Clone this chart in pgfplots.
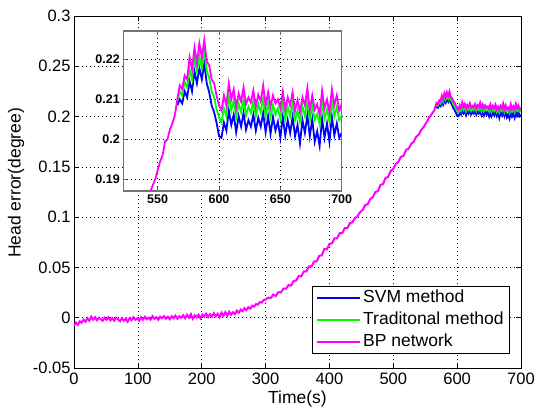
\documentclass[border=0pt]{standalone}
\usepackage{pgfplots}
\pgfplotsset{compat=1.18}
\usepackage{pgfplotstable}
\usepackage{fontspec}
\setmainfont{Liberation Sans}

\pgfplotstableread{
t v
0 -0.0080
3 -0.0050
6 -0.0070
9 -0.0035
12 -0.0050
15 -0.0020
18 -0.0040
21 -0.0005
24 -0.0030
27 0.0010
30 -0.0020
33 0.0005
36 -0.0025
39 0.0000
42 -0.0015
45 -0.0030
48 0.0000
51 -0.0020
54 0.0005
57 -0.0025
60 -0.0005
63 -0.0030
66 0.0000
69 -0.0015
72 -0.0035
75 -0.0005
78 -0.0030
81 -0.0010
84 -0.0040
87 -0.0005
90 -0.0025
93 0.0005
96 -0.0020
99 -0.0005
102 -0.0030
105 0.0005
108 -0.0020
111 0.0010
114 -0.0015
117 0.0000
120 -0.0020
123 0.0015
126 -0.0010
129 0.0005
132 -0.0020
135 0.0010
138 -0.0005
141 0.0015
144 -0.0010
147 0.0010
150 -0.0015
153 0.0015
156 -0.0005
159 0.0020
162 -0.0010
165 0.0015
168 0.0000
171 0.0025
174 -0.0005
177 0.0030
180 0.0000
183 0.0035
186 -0.0010
189 0.0025
192 0.0005
195 0.0030
198 -0.0005
201 0.0030
204 0.0010
207 0.0040
210 0.0005
213 0.0035
216 0.0010
219 0.0045
222 0.0015
225 0.0040
228 0.0005
231 0.0050
234 0.0020
237 0.0055
240 0.0020
243 0.0060
246 0.0030
249 0.0055
252 0.0035
255 0.0070
258 0.0050
261 0.0080
264 0.0065
267 0.0095
270 0.0075
273 0.0105
276 0.0090
279 0.0120
282 0.0110
285 0.0135
288 0.0130
291 0.0155
294 0.0150
297 0.0175
300 0.0180
304 0.0200
308 0.0195
312 0.0230
316 0.0215
320 0.0255
324 0.0250
328 0.0290
332 0.0290
336 0.0325
340 0.0320
344 0.0365
348 0.0370
352 0.0415
356 0.0410
360 0.0460
364 0.0460
368 0.0510
372 0.0510
376 0.0560
380 0.0560
384 0.0615
388 0.0620
392 0.0685
396 0.0680
400 0.0735
404 0.0740
408 0.0790
412 0.0790
416 0.0840
420 0.0840
424 0.0890
428 0.0890
432 0.0940
436 0.0950
440 0.0990
444 0.1010
448 0.1050
452 0.1070
456 0.1120
460 0.1130
464 0.1180
468 0.1200
472 0.1250
476 0.1260
480 0.1320
484 0.1330
488 0.1390
492 0.1400
496 0.1460
500 0.1480
504 0.1530
508 0.1550
512 0.1600
516 0.1610
520 0.1670
524 0.1680
528 0.1730
532 0.1750
536 0.1800
540 0.1820
544 0.1870
548 0.1900
552 0.1945
554 0.1960
556 0.1995
558 0.2000
560 0.2025
562 0.2040
564 0.2060
566 0.2100
}\common

\pgfplotstableread{
t v
566 0.2100
568 0.2135
570 0.2125
572 0.2160
574 0.2150
576 0.2205
578 0.2175
580 0.2230
582 0.2190
584 0.2240
586 0.2205
588 0.2248
590 0.2195
592 0.2185
594 0.2150
596 0.2140
598 0.2110
600 0.2085
602 0.2072
604 0.2110
606 0.2085
608 0.2140
610 0.2100
612 0.2125
614 0.2080
616 0.2115
618 0.2095
620 0.2130
622 0.2088
624 0.2105
626 0.2092
628 0.2122
630 0.2082
632 0.2112
634 0.2095
636 0.2135
638 0.2085
640 0.2118
642 0.2082
644 0.2110
646 0.2090
648 0.2100
650 0.2078
652 0.2120
654 0.2075
656 0.2105
658 0.2085
660 0.2118
662 0.2072
664 0.2098
666 0.2068
668 0.2105
670 0.2085
672 0.2128
674 0.2072
676 0.2110
678 0.2075
680 0.2088
682 0.2062
684 0.2122
686 0.2078
688 0.2100
690 0.2068
692 0.2125
694 0.2085
696 0.2110
698 0.2072
700 0.2088
}\bp

\pgfplotstableread{
t v
566 0.2095
568 0.2120
570 0.2110
572 0.2145
574 0.2130
576 0.2175
578 0.2150
580 0.2205
582 0.2170
584 0.2208
586 0.2178
588 0.2222
590 0.2170
592 0.2155
594 0.2120
596 0.2105
598 0.2075
600 0.2055
602 0.2042
604 0.2078
606 0.2058
608 0.2108
610 0.2072
612 0.2098
614 0.2055
616 0.2090
618 0.2068
620 0.2102
622 0.2060
624 0.2082
626 0.2066
628 0.2096
630 0.2058
632 0.2088
634 0.2068
636 0.2102
638 0.2058
640 0.2092
642 0.2056
644 0.2086
646 0.2062
648 0.2078
650 0.2052
652 0.2094
654 0.2050
656 0.2082
658 0.2058
660 0.2092
662 0.2048
664 0.2072
666 0.2044
668 0.2082
670 0.2058
672 0.2098
674 0.2048
676 0.2086
678 0.2050
680 0.2064
682 0.2038
684 0.2092
686 0.2052
688 0.2076
690 0.2044
692 0.2096
694 0.2058
696 0.2082
698 0.2048
700 0.2058
}\trad

\pgfplotstableread{
t v
566 0.2085
568 0.2100
570 0.2090
572 0.2120
574 0.2105
576 0.2145
578 0.2120
580 0.2170
582 0.2140
584 0.2178
586 0.2150
588 0.2190
590 0.2140
592 0.2118
594 0.2085
596 0.2068
598 0.2042
600 0.2008
602 0.2004
604 0.2042
606 0.2022
608 0.2072
610 0.2036
612 0.2062
614 0.2018
616 0.2058
618 0.2032
620 0.2066
622 0.2024
624 0.2048
626 0.2032
628 0.2062
630 0.2022
632 0.2054
634 0.2032
636 0.2066
638 0.2018
640 0.2058
642 0.2014
644 0.2056
646 0.2022
648 0.2044
650 0.2004
652 0.2056
654 0.2010
656 0.2048
658 0.2016
660 0.2056
662 0.2008
664 0.2036
666 0.1990
668 0.2048
670 0.2016
672 0.2060
674 0.2008
676 0.2050
678 0.1994
680 0.2020
682 0.1984
684 0.2052
686 0.2004
688 0.2040
690 0.1994
692 0.2056
694 0.2010
696 0.2040
698 0.2004
700 0.2016
}\svm

\definecolor{svmc}{rgb}{0,0,1}
\definecolor{tradc}{rgb}{0,1,0}
\definecolor{bpc}{rgb}{1,0,1}

\begin{document}
\begin{tikzpicture}
\begin{axis}[
  at={(0pt,0pt)}, anchor=south west,
  scale only axis, width=447pt, height=352pt,
  xmin=0, xmax=700, ymin=-0.05, ymax=0.3,
  xtick={0,100,...,700},
  ytick={-0.05,0,0.05,0.1,0.15,0.2,0.25,0.3},
  yticklabels={-0.05,0,0.05,0.1,0.15,0.2,0.25,0.3},
  /pgf/number format/assume math mode=true,
  tick align=inside, major tick length=5pt,
  tick style={black, line width=0.6pt},
  axis line style={black, line width=0.8pt},
  grid=major,
  grid style={black, line width=0.7pt, dash pattern=on 0.8pt off 3.2pt},
  ticklabel style={font=\fontsize{16.5}{19}\selectfont},
  xticklabel style={yshift=-1.5pt},
  xlabel={Time(s)},
  ylabel={Head error(degree)},
  label style={font=\fontsize{17.5}{20}\selectfont},
  xlabel style={at={(axis description cs:0.5,0)}, anchor=base, yshift=-35pt},
  ylabel style={at={(axis description cs:-0.1298,0.5256)}, anchor=center},
  legend style={at={(1,0)}, anchor=south east, xshift=-11pt, yshift=14pt,
    draw=black, line width=0.8pt, fill=white,
    font=\fontsize{17.5}{20}\selectfont,
    nodes={text height=12pt, text depth=3pt, inner ysep=2pt},
    row sep=3pt, inner xsep=4pt, inner ysep=2pt},
  legend cell align=left,
  legend image code/.code={\draw[#1, line width=1.6pt] (0pt,0pt) -- (43pt,0pt);},
]
\addplot[svmc, line width=2pt] table[x=t,y=v] {\svm};
\addlegendentry{SVM method}
\addplot[tradc, line width=2pt] table[x=t,y=v] {\trad};
\addlegendentry{Traditonal method}
\addplot[bpc, line width=2pt] table[x=t,y=v] {\bp};
\addlegendentry{BP network}
\addplot[bpc, line width=2pt, forget plot] table[x=t,y=v] {\common};
\end{axis}

\begin{axis}[
  at={(49.3pt,177pt)}, anchor=south west,
  scale only axis, width=218.4pt, height=160pt,
  xmin=522, xmax=700, ymin=0.1871, ymax=0.2271,
  xtick={550,600,650,700},
  ytick={0.19,0.2,0.21,0.22},
  yticklabels={0.19,0.2,0.21,0.22},
  /pgf/number format/assume math mode=true,
  axis background/.style={fill=white},
  tick align=inside, major tick length=4pt,
  tick style={black!60, line width=0.6pt},
  axis line style={black!55, line width=1.3pt},
  grid=major,
  grid style={black, line width=0.7pt, dash pattern=on 0.8pt off 3.2pt},
  ticklabel style={font=\fontsize{12.5}{15}\selectfont\bfseries},
  clip=true,
]
\addplot[svmc, line width=1.8pt] table[x=t,y=v] {\svm};
\addplot[tradc, line width=1.8pt] table[x=t,y=v] {\trad};
\addplot[bpc, line width=1.8pt] table[x=t,y=v] {\bp};
\addplot[bpc, line width=1.8pt] table[x=t,y=v] {\common};
\end{axis}
\pgfresetboundingbox
\path[use as bounding box] (-74pt,-42pt) rectangle (462pt,368pt);
\end{tikzpicture}
\end{document}
